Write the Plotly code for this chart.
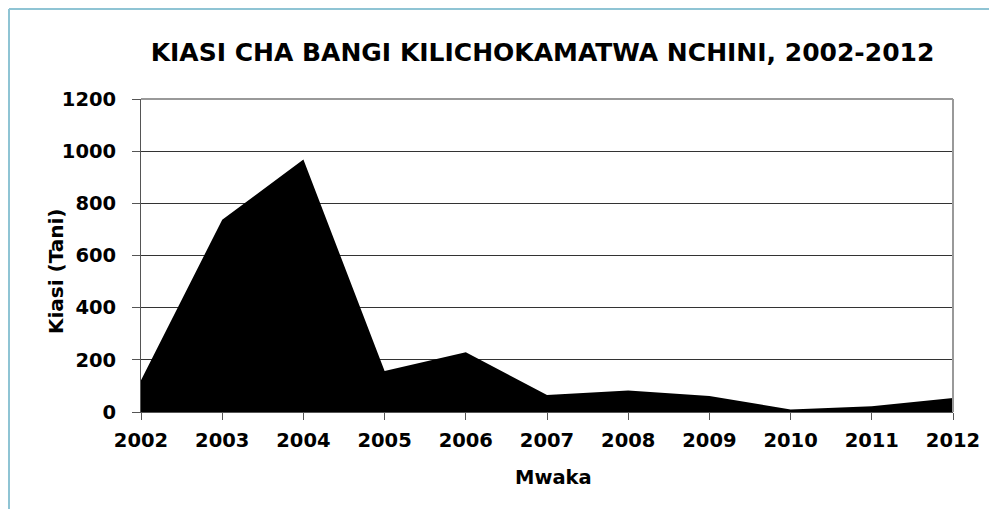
import plotly.graph_objects as go

years = ["2002", "2003", "2004", "2005", "2006", "2007", "2008", "2009", "2010", "2011", "2012"]
kiasi = [122, 737, 968, 157, 229, 65, 82, 61, 10, 22, 54]
y_ticks = [0, 200, 400, 600, 800, 1000, 1200]

FONT = "DejaVu Sans"
# the page body adds an 8px offset, so the figure is 989x501
W, H = 989, 501
L, R, T, B = 133, 44, 91, 97
pw, ph = W - L - R, H - T - B

fig = go.Figure()
fig.add_trace(go.Scatter(
    x=list(range(len(years))), y=kiasi, mode="lines", fill="tozeroy",
    line=dict(color="black", width=0), fillcolor="black", hoverinfo="x+y",
))

def px_x(p):
    return (p - L) / pw

def px_y(p):
    return (H - B - p) / ph

fig.update_layout(
    width=W, height=H,
    margin=dict(l=L, r=R, t=T, b=B),
    paper_bgcolor="white", plot_bgcolor="white",
    showlegend=False,
    font=dict(family=FONT, color="black"),
    title=dict(text="<b>KIASI CHA BANGI KILICHOKAMATWA NCHINI, 2002-2012</b>",
               x=534.5 / W, xanchor="center", y=1 - 44 / H, yanchor="middle",
               font=dict(family=FONT, size=25, color="black")),
    xaxis=dict(
        range=[0, len(years) - 1], tickmode="array",
        tickvals=list(range(len(years))), ticktext=[f"<b>{y}</b>" for y in years],
        showgrid=False, zeroline=False,
        showline=True, linecolor="#555", linewidth=1,
        ticks="outside", ticklen=7, tickcolor="#555",
        ticklabelstandoff=4,
        tickfont=dict(family=FONT, size=19.5, color="black"),
    ),
    yaxis=dict(
        range=[0, 1200], tickmode="array", tickvals=y_ticks,
        ticktext=[f"<b>{v}</b>" for v in y_ticks],
        showgrid=True, gridcolor="#333", gridwidth=1,
        zeroline=False,
        showline=True, linecolor="#555", linewidth=1,
        ticks="outside", ticklen=8, tickcolor="#555",
        ticklabelstandoff=12,
        tickfont=dict(family=FONT, size=19.5, color="black"),
    ),
    annotations=[
        dict(text="<b>Kiasi (Tani)</b>", xref="paper", yref="paper",
             x=px_x(48), y=px_y(263), xanchor="center", yanchor="middle",
             textangle=-90, showarrow=False,
             font=dict(family=FONT, size=20, color="black")),
        dict(text="<b>Mwaka</b>", xref="paper", yref="paper",
             x=px_x(545.4), y=px_y(469), xanchor="center", yanchor="middle",
             showarrow=False,
             font=dict(family=FONT, size=19.5, color="black")),
    ],
)

# plot-area frame (top & right, gray)
fig.add_shape(type="line", xref="paper", yref="paper", x0=0, x1=1, y0=1, y1=1,
              line=dict(color="#999", width=2))
fig.add_shape(type="line", xref="paper", yref="paper", x0=1, x1=1, y0=0, y1=1,
              line=dict(color="#999", width=2))
# outer chart border (light blue, top & left)
fig.add_shape(type="line", xref="paper", yref="paper",
              x0=px_x(1), x1=px_x(W + 5), y0=px_y(1), y1=px_y(1),
              line=dict(color="#8fc4d4", width=2))
fig.add_shape(type="line", xref="paper", yref="paper",
              x0=px_x(1), x1=px_x(1), y0=px_y(1), y1=px_y(H + 5),
              line=dict(color="#8fc4d4", width=2))

fig.write_html("out.html")
